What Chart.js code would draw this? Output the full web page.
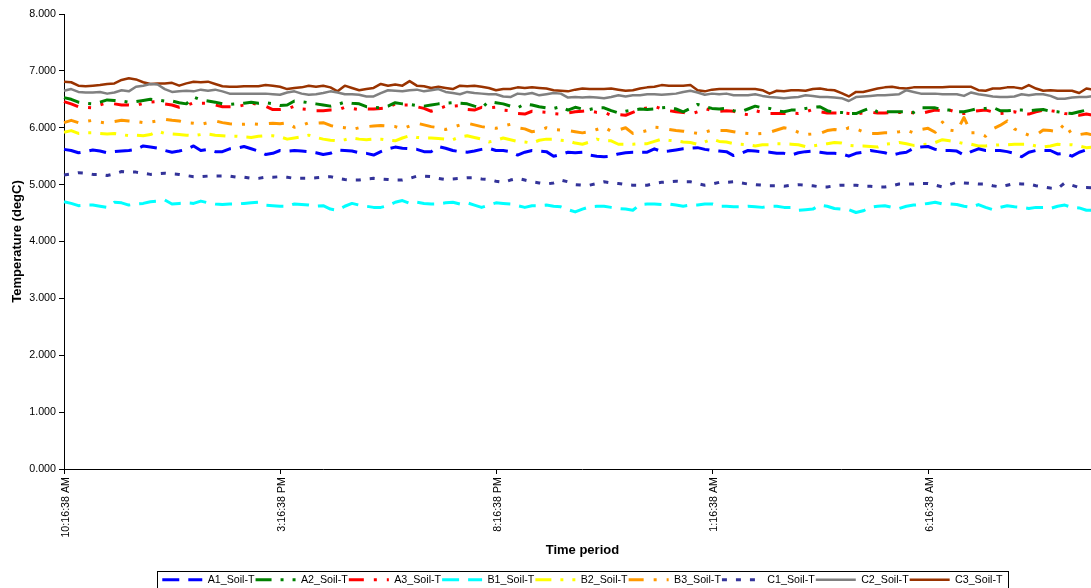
<!DOCTYPE html>
<html>
<head>
<meta charset="utf-8">
<title>Soil temperature</title>
<script src="https://cdn.jsdelivr.net/npm/chart.js@4/dist/chart.umd.min.js"></script>
<style>
    html, body { margin: 0; padding: 0; background: #fff; overflow: hidden; }
</style>
</head>
<body>
<canvas id="soilChart" width="1164" height="595"></canvas>
<script>
// Readings every 10 minutes, starting 10:16:38 AM
const startMinutes = 10 * 60 + 16;
const stepMinutes = 10;
const axisSlots = 145;   // category slots on the time axis
const labelEvery = 30;   // one tick label every 5 hours

function clockLabel(minutes) {
    const h24 = Math.floor(minutes / 60) % 24;
    const m = minutes % 60;
    const h12 = h24 % 12 || 12;
    return h12 + ':' + String(m).padStart(2, '0') + ':38 ' + (h24 < 12 ? 'AM' : 'PM');
}

const timeLabels = [];
for (let i = 0; i < axisSlots; i++) {
    timeLabels.push(clockLabel(startMinutes + i * stepMinutes));
}

const seriesNames = ['A1_Soil-T', 'A2_Soil-T', 'A3_Soil-T', 'B1_Soil-T', 'B2_Soil-T',
    'B3_Soil-T', 'C1_Soil-T', 'C2_Soil-T', 'C3_Soil-T'];

const a1Temp = [
    5.62, 5.60, 5.56, 5.58, 5.61, 5.59, 5.56, 5.58, 5.59, 5.60, 5.62, 5.68,
    5.66, 5.64, 5.60, 5.57, 5.59, 5.62, 5.68, 5.60, 5.62, 5.58, 5.58, 5.63,
    5.64, 5.67, 5.63, 5.59, 5.53, 5.55, 5.60, 5.59, 5.60, 5.59, 5.58, 5.56,
    5.53, 5.55, 5.61, 5.60, 5.59, 5.56, 5.55, 5.52, 5.58, 5.63, 5.66, 5.64,
    5.63, 5.62, 5.58, 5.58, 5.67, 5.64, 5.60, 5.58, 5.57, 5.59, 5.62, 5.64,
    5.60, 5.60, 5.58, 5.52, 5.57, 5.60, 5.59, 5.58, 5.50, 5.53, 5.57, 5.56,
    5.57, 5.52, 5.50, 5.49, 5.50, 5.54, 5.56, 5.57, 5.57, 5.57, 5.63, 5.58,
    5.59, 5.61, 5.63, 5.64, 5.65, 5.62, 5.60, 5.59, 5.58, 5.51, 5.55, 5.60,
    5.59, 5.58, 5.57, 5.55, 5.55, 5.52, 5.56, 5.58, 5.59, 5.57, 5.55, 5.55,
    5.54, 5.50, 5.55, 5.57, 5.60, 5.58, 5.56, 5.52, 5.55, 5.57, 5.64, 5.66,
    5.67, 5.62, 5.60, 5.60, 5.59, 5.52, 5.58, 5.63, 5.60, 5.60, 5.60, 5.58,
    5.55, 5.49, 5.57, 5.60, 5.60, 5.60, 5.54, 5.55, 5.50, 5.57, 5.61, 5.62
];

const a2Temp = [
    6.53, 6.50, 6.45, 6.43, 6.42, 6.45, 6.49, 6.48, 6.47, 6.45, 6.46, 6.48,
    6.50, 6.49, 6.47, 6.47, 6.44, 6.42, 6.54, 6.49, 6.47, 6.45, 6.42, 6.41,
    6.42, 6.43, 6.45, 6.43, 6.44, 6.42, 6.39, 6.40, 6.47, 6.46, 6.44, 6.42,
    6.40, 6.38, 6.41, 6.45, 6.43, 6.42, 6.37, 6.36, 6.35, 6.38, 6.44, 6.42,
    6.41, 6.39, 6.38, 6.40, 6.42, 6.43, 6.44, 6.43, 6.42, 6.38, 6.35, 6.46,
    6.44, 6.42, 6.38, 6.35, 6.42, 6.40, 6.37, 6.35, 6.34, 6.37, 6.31, 6.36,
    6.33, 6.32, 6.35, 6.35, 6.30, 6.26, 6.29, 6.31, 6.33, 6.32, 6.33, 6.35,
    6.36, 6.33, 6.28, 6.34, 6.41, 6.37, 6.34, 6.33, 6.34, 6.30, 6.28, 6.33,
    6.38, 6.35, 6.34, 6.30, 6.28, 6.31, 6.31, 6.34, 6.36, 6.37, 6.30, 6.27,
    6.27, 6.25, 6.25, 6.30, 6.35, 6.28, 6.28, 6.28, 6.28, 6.28, 6.27, 6.35,
    6.35, 6.35, 6.32, 6.31, 6.28, 6.28, 6.31, 6.34, 6.34, 6.36, 6.30, 6.30,
    6.31, 6.31, 6.30, 6.31, 6.32, 6.29, 6.28, 6.26, 6.25, 6.28, 6.31, 6.31
];

const a3Temp = [
    6.46, 6.42, 6.37, 6.36, 6.35, 6.40, 6.44, 6.42, 6.40, 6.40, 6.39, 6.43,
    6.45, 6.46, 6.42, 6.40, 6.36, 6.39, 6.44, 6.43, 6.43, 6.40, 6.37, 6.37,
    6.37, 6.40, 6.44, 6.40, 6.38, 6.32, 6.32, 6.33, 6.38, 6.33, 6.32, 6.30,
    6.30, 6.31, 6.31, 6.36, 6.34, 6.32, 6.33, 6.33, 6.34, 6.35, 6.42, 6.40,
    6.40, 6.37, 6.34, 6.29, 6.33, 6.38, 6.38, 6.39, 6.32, 6.31, 6.36, 6.35,
    6.36, 6.31, 6.30, 6.25, 6.24, 6.29, 6.28, 6.27, 6.25, 6.24, 6.26, 6.28,
    6.29, 6.30, 6.27, 6.27, 6.22, 6.23, 6.22, 6.27, 6.32, 6.35, 6.38, 6.33,
    6.30, 6.28, 6.27, 6.24, 6.28, 6.34, 6.30, 6.29, 6.30, 6.29, 6.25, 6.23,
    6.30, 6.27, 6.25, 6.25, 6.25, 6.26, 6.25, 6.28, 6.32, 6.28, 6.26, 6.26,
    6.26, 6.25, 6.24, 6.26, 6.27, 6.26, 6.26, 6.27, 6.27, 6.28, 6.26, 6.25,
    6.28, 6.31, 6.30, 6.31, 6.27, 6.25, 6.28, 6.30, 6.31, 6.28, 6.25, 6.26,
    6.28, 6.25, 6.24, 6.28, 6.31, 6.30, 6.28, 6.25, 6.24, 6.22, 6.24, 6.22
];

const b1Temp = [
    4.70, 4.67, 4.63, 4.64, 4.64, 4.62, 4.60, 4.69, 4.68, 4.64, 4.66, 4.67,
    4.70, 4.71, 4.73, 4.66, 4.67, 4.68, 4.67, 4.71, 4.68, 4.66, 4.65, 4.66,
    4.66, 4.67, 4.68, 4.69, 4.64, 4.63, 4.62, 4.62, 4.66, 4.65, 4.64, 4.62,
    4.63, 4.57, 4.55, 4.62, 4.67, 4.64, 4.62, 4.60, 4.60, 4.63, 4.69, 4.72,
    4.67, 4.69, 4.67, 4.66, 4.66, 4.68, 4.69, 4.66, 4.68, 4.64, 4.60, 4.64,
    4.68, 4.67, 4.66, 4.63, 4.60, 4.63, 4.63, 4.64, 4.62, 4.61, 4.56, 4.52,
    4.57, 4.61, 4.62, 4.62, 4.60, 4.58, 4.57, 4.55, 4.65, 4.66, 4.66, 4.65,
    4.66, 4.64, 4.62, 4.64, 4.64, 4.66, 4.66, 4.62, 4.62, 4.61, 4.61, 4.62,
    4.61, 4.60, 4.62, 4.62, 4.60, 4.60, 4.55, 4.56, 4.57, 4.64, 4.62, 4.58,
    4.57, 4.56, 4.51, 4.54, 4.60, 4.62, 4.63, 4.60, 4.58, 4.62, 4.64, 4.65,
    4.67, 4.69, 4.66, 4.66, 4.65, 4.62, 4.60, 4.65, 4.60, 4.56, 4.60, 4.63,
    4.61, 4.60, 4.58, 4.60, 4.60, 4.58, 4.62, 4.64, 4.60, 4.59, 4.55, 4.55
];

const b2Temp = [
    5.92, 5.95, 5.90, 5.91, 5.91, 5.90, 5.89, 5.90, 5.88, 5.86, 5.87, 5.86,
    5.88, 5.94, 5.90, 5.89, 5.88, 5.87, 5.86, 5.88, 5.89, 5.87, 5.86, 5.85,
    5.85, 5.84, 5.83, 5.85, 5.86, 5.86, 5.84, 5.80, 5.82, 5.84, 5.87, 5.83,
    5.80, 5.78, 5.77, 5.79, 5.82, 5.80, 5.79, 5.80, 5.80, 5.78, 5.77, 5.82,
    5.86, 5.83, 5.82, 5.82, 5.81, 5.80, 5.79, 5.84, 5.86, 5.83, 5.80, 5.75,
    5.78, 5.82, 5.79, 5.76, 5.75, 5.73, 5.78, 5.80, 5.80, 5.78, 5.77, 5.73,
    5.71, 5.75, 5.80, 5.77, 5.77, 5.71, 5.71, 5.71, 5.72, 5.72, 5.76, 5.80,
    5.78, 5.77, 5.75, 5.74, 5.71, 5.75, 5.80, 5.76, 5.75, 5.72, 5.71, 5.70,
    5.68, 5.70, 5.70, 5.72, 5.72, 5.71, 5.70, 5.67, 5.68, 5.70, 5.72, 5.74,
    5.73, 5.69, 5.68, 5.68, 5.67, 5.66, 5.71, 5.72, 5.74, 5.72, 5.69, 5.70,
    5.71, 5.74, 5.79, 5.77, 5.75, 5.72, 5.71, 5.68, 5.68, 5.69, 5.70, 5.70,
    5.71, 5.71, 5.71, 5.68, 5.66, 5.68, 5.71, 5.70, 5.70, 5.68, 5.65, 5.66
];

const b3Temp = [
    6.09, 6.13, 6.09, 6.11, 6.13, 6.10, 6.08, 6.11, 6.13, 6.12, 6.11, 6.09,
    6.10, 6.12, 6.15, 6.13, 6.12, 6.09, 6.08, 6.06, 6.09, 6.12, 6.09, 6.07,
    6.06, 6.06, 6.07, 6.06, 6.07, 6.08, 6.07, 6.09, 6.01, 6.04, 6.09, 6.08,
    6.09, 6.04, 6.01, 6.00, 5.97, 6.00, 6.02, 6.03, 6.04, 6.03, 6.02, 5.98,
    6.03, 6.08, 6.05, 6.02, 6.00, 5.97, 6.01, 6.05, 6.08, 6.05, 6.02, 6.00,
    5.99, 6.03, 6.06, 6.00, 5.98, 5.93, 5.95, 6.00, 5.97, 5.96, 5.95, 5.93,
    5.91, 5.93, 5.97, 6.01, 5.94, 5.96, 6.00, 5.90, 5.92, 5.95, 6.01, 6.00,
    5.97, 5.95, 5.94, 5.92, 5.90, 5.92, 5.96, 5.95, 5.95, 5.93, 5.91, 5.90,
    5.89, 5.90, 5.92, 5.96, 6.00, 5.98, 5.92, 5.88, 5.89, 5.90, 5.95, 5.97,
    5.95, 6.00, 5.98, 5.93, 5.90, 5.90, 5.91, 5.91, 5.93, 5.96, 5.91, 5.97,
    5.99, 5.92, 6.10, 5.96, 5.94, 6.18, 5.91, 5.91, 5.85, 5.98, 6.04, 6.12,
    5.98, 5.92, 5.87, 5.87, 5.96, 5.95, 5.93, 6.07, 5.88, 5.88, 5.90, 5.87
];

const c1Temp = [
    5.17, 5.19, 5.21, 5.20, 5.18, 5.18, 5.16, 5.19, 5.23, 5.22, 5.22, 5.20,
    5.18, 5.19, 5.20, 5.19, 5.18, 5.16, 5.14, 5.14, 5.15, 5.15, 5.15, 5.15,
    5.13, 5.13, 5.11, 5.11, 5.13, 5.13, 5.14, 5.13, 5.11, 5.11, 5.11, 5.12,
    5.13, 5.14, 5.11, 5.09, 5.08, 5.08, 5.10, 5.11, 5.10, 5.09, 5.08, 5.08,
    5.11, 5.15, 5.15, 5.14, 5.11, 5.09, 5.10, 5.11, 5.12, 5.12, 5.10, 5.09,
    5.06, 5.04, 5.08, 5.11, 5.08, 5.05, 5.03, 5.01, 5.03, 5.08, 5.05, 5.00,
    4.99, 4.99, 5.02, 5.05, 5.03, 5.02, 5.00, 4.99, 4.99, 4.99, 5.02, 5.04,
    5.05, 5.06, 5.05, 5.05, 5.02, 4.99, 5.01, 5.04, 5.04, 5.05, 5.03, 5.01,
    5.00, 4.99, 4.98, 4.98, 4.97, 4.99, 5.00, 4.99, 4.98, 4.96, 4.96, 4.98,
    4.99, 4.99, 4.99, 4.97, 4.97, 4.96, 4.96, 4.98, 5.01, 5.01, 5.01, 5.02,
    5.02, 4.99, 4.96, 5.00, 5.04, 5.03, 5.02, 5.01, 5.01, 4.98, 4.96, 4.99,
    5.02, 5.01, 5.01, 4.98, 4.96, 4.94, 4.93, 5.03, 4.99, 4.95, 4.95, 4.94
];

const c2Temp = [
    6.65, 6.68, 6.63, 6.62, 6.62, 6.63, 6.60, 6.62, 6.66, 6.64, 6.72, 6.74,
    6.77, 6.76, 6.68, 6.63, 6.64, 6.65, 6.64, 6.67, 6.65, 6.67, 6.64, 6.60,
    6.60, 6.60, 6.60, 6.60, 6.60, 6.59, 6.58, 6.62, 6.64, 6.60, 6.58, 6.59,
    6.61, 6.64, 6.62, 6.59, 6.59, 6.58, 6.55, 6.55, 6.61, 6.66, 6.65, 6.64,
    6.66, 6.67, 6.64, 6.66, 6.68, 6.63, 6.61, 6.59, 6.63, 6.61, 6.60, 6.59,
    6.59, 6.55, 6.54, 6.60, 6.59, 6.61, 6.57, 6.59, 6.61, 6.60, 6.53, 6.54,
    6.53, 6.54, 6.53, 6.52, 6.54, 6.57, 6.55, 6.57, 6.57, 6.59, 6.59, 6.58,
    6.59, 6.60, 6.63, 6.65, 6.62, 6.58, 6.60, 6.59, 6.60, 6.57, 6.57, 6.57,
    6.59, 6.56, 6.54, 6.53, 6.52, 6.53, 6.54, 6.57, 6.56, 6.54, 6.54, 6.53,
    6.52, 6.47, 6.54, 6.55, 6.56, 6.57, 6.57, 6.58, 6.59, 6.66, 6.63, 6.60,
    6.60, 6.60, 6.59, 6.59, 6.59, 6.56, 6.62, 6.59, 6.57, 6.55, 6.54, 6.54,
    6.55, 6.59, 6.57, 6.59, 6.59, 6.56, 6.51, 6.51, 6.53, 6.54, 6.54, 6.56
];

const c3Temp = [
    6.81, 6.80, 6.74, 6.73, 6.74, 6.75, 6.77, 6.78, 6.84, 6.87, 6.85, 6.80,
    6.77, 6.78, 6.78, 6.79, 6.74, 6.78, 6.81, 6.80, 6.81, 6.77, 6.73, 6.72,
    6.72, 6.73, 6.73, 6.73, 6.75, 6.74, 6.72, 6.68, 6.70, 6.71, 6.74, 6.72,
    6.74, 6.71, 6.64, 6.74, 6.70, 6.66, 6.68, 6.70, 6.77, 6.74, 6.76, 6.74,
    6.82, 6.74, 6.73, 6.70, 6.72, 6.70, 6.68, 6.74, 6.73, 6.74, 6.72, 6.70,
    6.66, 6.68, 6.68, 6.71, 6.70, 6.71, 6.70, 6.69, 6.66, 6.65, 6.64, 6.67,
    6.69, 6.68, 6.68, 6.68, 6.69, 6.67, 6.65, 6.66, 6.69, 6.71, 6.72, 6.75,
    6.74, 6.74, 6.74, 6.75, 6.66, 6.64, 6.67, 6.68, 6.68, 6.68, 6.68, 6.68,
    6.68, 6.66, 6.60, 6.65, 6.64, 6.66, 6.66, 6.65, 6.68, 6.69, 6.67, 6.66,
    6.61, 6.55, 6.63, 6.63, 6.66, 6.69, 6.71, 6.72, 6.70, 6.69, 6.71, 6.71,
    6.71, 6.71, 6.71, 6.72, 6.72, 6.72, 6.72, 6.66, 6.65, 6.69, 6.69, 6.71,
    6.71, 6.69, 6.75, 6.69, 6.65, 6.66, 6.65, 6.65, 6.65, 6.61, 6.69, 6.67
];

const seriesValues = [a1Temp, a2Temp, a3Temp, b1Temp, b2Temp, b3Temp, c1Temp, c2Temp, c3Temp];
const seriesColors = ['#0000ff', '#008000', '#ff0000', '#00ffff', '#ffff00',
    '#ff9900', '#333399', '#808080', '#993300'];

// line styles: long dash, long dash-dot, long dash-dot-dot, square dot, solid
const longDash = [17, 9];
const dashDot = [16, 9, 3, 9];
const dashDotDot = [15, 10, 3, 10, 3, 11];
const squareDot = [5, 9];
const seriesDashes = [longDash, dashDot, dashDotDot, longDash, dashDot, dashDotDot, squareDot, [], []];

const datasets = seriesNames.map((name, i) => ({
    label: name,
    data: seriesValues[i],
    borderColor: seriesColors[i],
    backgroundColor: seriesColors[i],
    borderWidth: seriesDashes[i].length ? 3 : 2.5,
    borderDash: seriesDashes[i],
    borderJoinStyle: 'round',
    tension: 0,
    pointRadius: 0,
    pointHitRadius: 0,
    fill: false
}));

// legend samples: short line in the series' own dash style, drawn left to right
function legendLabels(chart) {
    const base = Chart.defaults.plugins.legend.labels.generateLabels(chart);
    return base.map(item => {
        const ds = chart.data.datasets[item.datasetIndex];
        return Object.assign(item, {
            pointStyle: 'line',
            rotation: 180,
            lineDash: ds.borderDash,
            lineWidth: ds.borderWidth,
            strokeStyle: ds.borderColor,
            lineCap: 'butt'
        });
    });
}

// frame around the legend row
const legendFrame = {
    id: 'legendFrame',
    afterDraw(chart) {
        const boxes = chart.legend.legendHitBoxes;
        if (!boxes || !boxes.length) return;
        const c = chart.ctx;
        const left = Math.round(Math.min(...boxes.map(b => b.left)) - 5) + 0.5;
        const right = Math.round(Math.max(...boxes.map(b => b.left + b.width)) + 5) + 0.5;
        const mid = boxes[0].top + boxes[0].height / 2;
        const top = Math.round(mid - 8.5) + 0.5;
        c.save();
        c.strokeStyle = '#000';
        c.lineWidth = 1;
        c.setLineDash([]);
        c.strokeRect(left, top, right - left, 18);
        c.restore();
    }
};

Chart.defaults.font.family = "'Liberation Sans', Arial, sans-serif";
Chart.defaults.color = '#000';

const ctx = document.getElementById('soilChart').getContext('2d');

const chart = new Chart(ctx, {
    type: 'line',
    data: {
        labels: timeLabels,
        datasets: datasets
    },
    options: {
        responsive: false,
        animation: false,
        layout: {
            padding: { top: 14, right: 63.2, left: 0, bottom: 0 }
        },
        plugins: {
            legend: {
                position: 'bottom',
                fullSize: false,
                labels: {
                    usePointStyle: true,
                    pointStyle: 'line',
                    pointStyleWidth: 40,
                    padding: 1,
                    color: '#000',
                    font: { size: 10.7 },
                    generateLabels: legendLabels
                }
            },
            tooltip: { enabled: false }
        },
        scales: {
            x: {
                type: 'category',
                afterBuildTicks: axis => {
                    axis.ticks = axis.ticks.filter(t => t.value % labelEvery === 0);
                },
                afterFit: axis => { axis.height = 104.3; },
                grid: {
                    drawOnChartArea: false,
                    drawTicks: true,
                    tickLength: 5,
                    tickColor: '#000'
                },
                border: { color: '#000', width: 1 },
                ticks: {
                    autoSkip: false,
                    minRotation: 90,
                    maxRotation: 90,
                    padding: 3,
                    labelOffset: 2,
                    color: '#000',
                    font: { size: 10.7 }
                },
                title: {
                    display: true,
                    text: 'Time period',
                    color: '#000',
                    font: { size: 13, weight: 'bold' },
                    padding: { top: 0, bottom: 15.5 }
                }
            },
            y: {
                min: 0,
                max: 8,
                afterFit: axis => { axis.width = 64; },
                grid: {
                    drawOnChartArea: false,
                    drawTicks: true,
                    tickLength: 5,
                    tickColor: '#000'
                },
                border: { color: '#000', width: 1 },
                ticks: {
                    stepSize: 1,
                    padding: 3,
                    color: '#000',
                    font: { size: 10.7 },
                    callback: v => v.toFixed(3)
                },
                title: {
                    display: true,
                    text: 'Temperature (degC)',
                    color: '#000',
                    font: { size: 13, weight: 'bold' },
                    padding: { top: 10, bottom: 0 }
                }
            }
        }
    },
    plugins: [legendFrame]
});
</script>
</body>
</html>
